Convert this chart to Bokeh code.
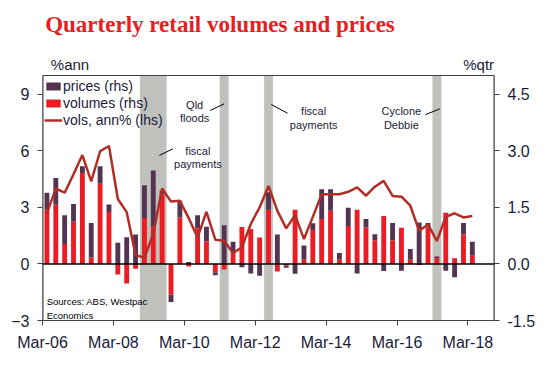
from bokeh.plotting import figure
from bokeh.models import (Range1d, LinearAxis, FixedTicker, PrintfTickFormatter, BoxAnnotation,
                          Span, Label, Legend, LegendItem, ColumnDataSource)
from bokeh.embed import file_html
from bokeh.resources import INLINE

# ---------------- data ----------------
months = ["Mar", "Jun", "Sep", "Dec"]
quarters = [f"{months[k % 4]}-{(6 + k // 4):02d}" for k in range(49)]

volumes = [1.44, 1.57, 0.53, 1.12, 2.41, 0.17, 2.13, 1.38, -0.28, -0.52, -0.13, 1.22, 1.00, 1.85,
           -0.81, 1.23, -0.07, 0.95, 0.60, -0.22, -0.15, 0.28, 0.98, 0.93, 0.70, 1.44, -0.20, -0.04,
           1.44, 0.11, 0.90, 1.19, 1.41, 0.11, 1.01, 1.44, 0.97, 0.63, 1.27, 0.63, 0.96, 0.11, -0.03,
           0.97, 0.15, 1.36, 0.15, 0.78, 0.22]
prices = [0.45, 0.71, 0.76, 0.47, 0.18, 0.92, 0.46, 0.20, 0.56, 0.71, 0.78, 0.87, 1.48, 0.09,
          -0.20, 0.45, 0.05, 0.34, 0.39, -0.08, 1.03, 0.31, -0.09, -0.25, -0.31, 0.46, 0.78, -0.06,
          -0.26, 0.38, 0.18, 0.79, 0.57, 0.18, 0.48, -0.25, 0.22, 0.16, -0.19, 0.46, -0.18, 0.29, 1.10,
          0.12, 0.05, -0.18, -0.35, 0.31, 0.37]
vols_ann = [2.70, 4.00, 3.78, 4.76, 5.78, 4.38, 5.98, 6.26, 3.45, 2.75, 0.47, 0.33, 1.60, 4.00,
            3.31, 3.35, 2.43, 1.41, 2.77, 1.29, 1.23, 0.58, 0.88, 2.12, 3.00, 4.14, 2.82, 1.89,
            2.59, 1.32, 2.50, 3.70, 3.70, 3.70, 3.83, 4.06, 3.62, 4.10, 4.41, 3.61, 3.57, 3.09, 1.76,
            2.09, 1.22, 2.50, 2.69, 2.47, 2.55]

xtick_labels = ["Mar-06", "Mar-08", "Mar-10", "Mar-12", "Mar-14", "Mar-16", "Mar-18"]
left_ticks = [-3, 0, 3, 6, 9]
right_ticks = [-1.5, 0.0, 1.5, 3.0, 4.5]
left_min, left_max = -3, 10          # plotted value range (lhs); rhs is half of it

# shaded episodes: first quarter, number of quarters
shade_start = ["Dec-08", "Mar-11", "Jun-12", "Mar-17"]
shade_len = [3, 1, 1, 1]

# ---------------- derived ----------------
x = [i + 0.5 for i in range(len(quarters))]
red_bottom = [0.0] * len(volumes)
red_top = volumes
pur_bottom = [v if (v >= 0) == (p >= 0) else 0.0 for v, p in zip(volumes, prices)]
pur_top = [b + p for b, p in zip(pur_bottom, prices)]

src = ColumnDataSource(dict(x=x, rb=red_bottom, rt=red_top, pb=pur_bottom, pt=pur_top, line=vols_ann))

TXT = "#1b1b3a"
FONT = "Liberation Sans"

W, H = 544, 353
FL, FR, FT, FB = 42, 494, 75, 320      # frame box (px) of the chart area
x_hi = 51
px_per = (FB - FT) / (left_max - left_min)
top_val = left_max + FT / px_per       # the canvas extends up to hold the title

p = figure(width=W, height=H, output_backend="svg", toolbar_location=None, title=None,
           x_range=Range1d(0, x_hi), y_range=Range1d(left_min, top_val),
           min_border_left=FL, min_border_right=W - FR, min_border_top=0, min_border_bottom=H - FB)
p.extra_y_ranges = {"rhs": Range1d(left_min / 2, top_val / 2)}
p.xgrid.visible = False
p.ygrid.visible = False
p.outline_line_color = None
p.background_fill_color = "white"
p.border_fill_color = "white"

# shading
for s, n in zip(shade_start, shade_len):
    i0 = quarters.index(s)
    p.add_layout(BoxAnnotation(left=i0, right=i0 + n, bottom=left_min, top=left_max,
                               fill_color="#bfc1bd", fill_alpha=1,
                               line_color="#d6d7d4", line_width=1, level="underlay"))

r_red = p.vbar(x="x", bottom="rb", top="rt", width=0.55, source=src, y_range_name="rhs",
               fill_color="#ec1c24", line_color=None)
r_pur = p.vbar(x="x", bottom="pb", top="pt", width=0.55, source=src, y_range_name="rhs",
               fill_color="#553452", line_color=None)
p.add_layout(Span(location=0, dimension="width", line_color="black", line_width=1.5))
r_line = p.line(x="x", y="line", source=src, line_color="#b32d27", line_width=2.5)

# chart box (left, top, right borders)
p.line(x=[0, 0, x_hi, x_hi], y=[left_min, left_max, left_max, left_min],
       line_color="#404040", line_width=1)
p.line(x=[0, 0], y=[left_min, left_max], line_color="#404040", line_width=2)
p.line(x=[x_hi, x_hi], y=[left_min, left_max], line_color="#404040", line_width=2)

# axes
p.xaxis.ticker = FixedTicker(ticks=[quarters.index(t) for t in xtick_labels])
p.xaxis.major_label_overrides = {quarters.index(t): t for t in xtick_labels}
p.yaxis.ticker = FixedTicker(ticks=left_ticks)
ra = LinearAxis(y_range_name="rhs", ticker=FixedTicker(ticks=right_ticks),
                formatter=PrintfTickFormatter(format="%.1f"))
p.add_layout(ra, "right")
for ax in [p.xaxis[0], p.yaxis[0], ra]:
    ax.major_tick_out = 5
    ax.major_tick_in = 0
    ax.minor_tick_line_color = None
    ax.major_tick_line_color = "#404040"
    ax.major_label_text_font = FONT
    ax.major_label_text_font_size = "16px"
    ax.major_label_text_color = TXT
    ax.major_label_standoff = 8
p.xaxis.axis_line_color = "#404040"
p.yaxis.axis_line_color = None
ra.axis_line_color = None

# legend
legend = Legend(items=[LegendItem(label="prices (rhs)", renderers=[r_pur]),
                       LegendItem(label="volumes (rhs)", renderers=[r_red]),
                       LegendItem(label="vols, ann% (lhs)", renderers=[r_line])],
                location=(2, FB - FT - 2 - 51), orientation="vertical", background_fill_alpha=0,
                border_line_color=None, padding=0, margin=0, spacing=0,
                label_height=17, glyph_width=18, glyph_height=10, label_standoff=1,
                label_text_font=FONT, label_text_font_size="14px", label_text_color=TXT)
p.add_layout(legend)

def txt(xv, yv, s, size="11px", align="center", color=TXT, font=FONT, style="normal", base="middle"):
    p.add_layout(Label(x=xv, y=yv, text=s, text_font=font, text_font_size=size, text_align=align,
                       text_baseline=base, text_color=color, text_font_style=style))

txt(0.3, 12.7, "Quarterly retail volumes and prices", size="23px", align="left",
    color="#e3211f", font="Liberation Serif", style="bold", base="alphabetic")
txt(3.1, 10.58, "%ann", size="15px")
txt(x_hi - 0.05, 10.58, "%qtr", size="15px", align="right")

txt(17.17, 8.45, "Qld")
txt(17.17, 7.73, "floods")
txt(17.53, 6.02, "fiscal")
txt(17.53, 5.32, "payments")
txt(30.59, 8.14, "fiscal")
txt(30.59, 7.40, "payments")
txt(40.49, 8.14, "Cyclone")
txt(40.49, 7.40, "Debbie")
txt(0.47, -1.97, "Sources: ABS, Westpac", size="9.5px", align="left", color="black")
txt(0.47, -2.73, "Economics", size="9.5px", align="left", color="black")

p.segment(x0=[18.92, 13.19, 25.81, 43.2], y0=[8.14, 5.76, 8.46, 7.92],
          x1=[20.5, 14.71, 27.65, 44.82], y1=[8.5, 6.11, 8.0, 8.23], line_color="black", line_width=1)

open("out.html", "w").write(file_html(p, INLINE))
